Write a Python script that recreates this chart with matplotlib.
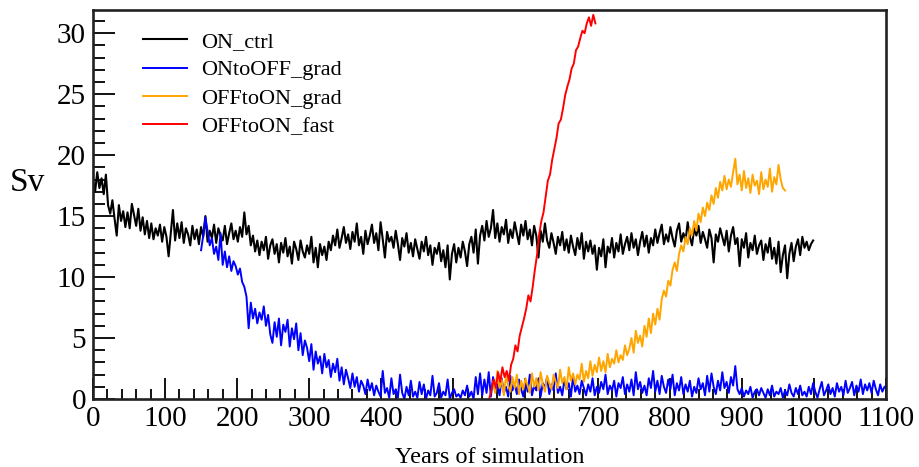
import numpy as np
import matplotlib
matplotlib.use('Agg')
import matplotlib.pyplot as plt
from matplotlib.ticker import MultipleLocator

plt.rcParams['font.family'] = ['Liberation Serif', 'DejaVu Serif']

# overturning strength (Sv), sampled every 3 model years
years_ctrl = np.arange(0, 1000, 3)
on_ctrl = [
    17.9, 17.0, 18.6, 17.3, 18.1, 16.8, 18.4, 15.9, 15.2, 16.3,
    14.8, 13.4, 15.9, 14.6, 15.4, 14.1, 15.3, 14.0, 16.0, 15.1,
    14.2, 15.6, 13.8, 14.9, 13.5, 14.6, 13.2, 14.4, 13.1, 14.0,
    13.4, 14.3, 12.9, 14.1, 13.3, 11.7, 13.6, 15.5, 13.0, 14.4,
    13.2, 14.5, 12.8, 14.0, 13.5, 12.6, 14.2, 13.1, 13.9, 12.7,
    14.1, 13.3, 15.0, 12.9, 13.8, 13.2, 14.3, 12.8, 14.0, 13.4,
    13.0, 14.2, 12.7, 13.6, 14.4, 13.1, 13.8, 12.9, 14.1, 13.3,
    15.3, 13.5, 14.2, 12.6, 13.4, 12.1, 13.0, 11.8, 12.9, 12.2,
    13.3, 11.5, 12.6, 13.1, 11.9, 12.7, 11.2, 12.8, 12.0, 13.2,
    11.7, 12.5, 11.1, 12.9, 12.3, 11.4, 13.0, 12.1, 11.6, 12.6,
    11.9, 13.3, 11.2, 12.4, 10.8, 12.7, 11.8, 12.5, 11.4, 12.9,
    12.2, 13.4, 12.6, 13.9, 12.4, 13.2, 14.1, 12.8, 13.5, 12.3,
    13.7, 12.9, 14.4, 12.6, 13.3, 11.9, 13.8, 12.7, 13.4, 14.3,
    12.8, 13.6, 12.2, 14.5, 13.1, 11.6, 13.7, 12.9, 13.3, 12.4,
    13.8, 12.7, 11.4, 13.2, 12.5, 13.6, 12.0, 12.8, 11.7, 13.1,
    12.3, 11.5, 12.9, 12.1, 13.3, 11.8, 12.6, 11.0, 12.4, 11.9,
    12.8, 11.3, 12.2, 10.8, 12.6, 9.8, 11.9, 12.7, 11.2, 12.4,
    11.6, 12.9, 12.1, 10.9, 12.7, 13.3, 12.0, 13.9, 11.1, 13.4,
    14.2, 13.0, 14.6, 13.3, 14.0, 15.5, 13.2, 14.4, 12.9, 14.1,
    13.5, 14.7, 12.8, 13.9, 13.2, 14.5, 13.6, 12.7, 14.3, 13.4,
    14.6, 13.1, 13.9, 12.6, 14.2, 13.4, 11.6, 13.8, 12.9, 14.4,
    13.0, 12.4, 13.6, 12.8, 11.9, 13.3, 12.6, 13.7, 12.2, 13.1,
    12.0, 13.4, 12.5, 11.8, 13.2, 12.3, 13.6, 11.5, 12.9, 12.1,
    13.0, 11.9, 12.6, 10.6, 12.4, 11.7, 13.1, 10.8, 12.5, 12.0,
    13.2, 11.6, 12.8, 12.1, 13.5, 11.9, 12.7, 13.3, 12.2, 13.6,
    12.4, 13.1, 11.8, 12.9, 13.7, 12.5, 13.4, 12.0, 13.2, 12.6,
    13.9, 12.8, 13.6, 14.3, 12.7, 13.5, 12.9, 14.1, 13.2, 12.5,
    13.8, 14.4, 12.9, 13.6, 13.0, 14.5, 13.3, 12.6, 14.0, 13.4,
    14.2, 12.8, 13.7, 13.1, 12.4, 13.9, 13.2, 11.2, 13.5, 12.9,
    14.0, 13.3, 12.6, 13.8, 12.1, 13.4, 14.1, 12.7, 13.2, 10.9,
    13.1, 12.4, 13.6, 11.6, 12.8, 12.2, 13.4, 11.9, 12.6, 13.0,
    11.4, 12.7, 12.0, 13.2, 11.5, 12.4, 11.1, 12.9, 10.4, 11.8,
    12.6, 9.9, 11.9, 12.8, 11.3, 12.5, 13.1, 11.8, 13.3, 12.4,
    12.9, 12.2, 12.7, 13.0,
]

years_on_off = np.arange(150, 1100, 3)
on_to_off_grad = [
    12.2, 13.4, 14.9, 13.8, 12.6, 13.2, 11.9, 12.5, 11.4, 13.6,
    11.0, 12.1, 10.8, 11.7, 10.5, 11.3, 10.9, 10.2, 10.7, 9.6,
    9.2, 8.4, 5.8, 7.9, 6.6, 7.4, 6.2, 7.1, 6.5, 7.6,
    6.0, 6.9, 5.3, 4.6, 6.3, 5.1, 6.6, 4.4, 6.1, 5.5,
    6.5, 4.3, 5.8, 4.9, 6.2, 4.0, 5.4, 3.6, 4.8, 4.2,
    3.1, 4.5, 2.4, 3.9, 2.9, 3.5, 2.1, 3.7, 2.6, 3.2,
    1.8, 2.9, 2.2, 3.3, 1.5, 2.6, 1.2, 2.4, 1.7, 0.9,
    2.1, 1.0, 1.8, 0.6, 1.5, 1.1, 0.4, 1.6, 0.7, 1.3,
    0.3, 1.1, 0.6, 0.2, 2.3, 0.5, 0.9, 0.1, 1.7, 0.4,
    0.8, 0.1, 2.0, 0.5, 0.0, 1.0, 0.3, 1.5, 0.2, 0.6,
    0.1, 1.4, 0.4, 1.2, 0.0, 0.7, 0.3, 1.9, 0.2, 0.5,
    1.3, 0.1, 0.6, 0.3, 1.6, 0.0, 0.5, 0.8, 0.2, 0.4,
    0.1, 0.7, 0.3, 1.1, 0.2, 0.6, 0.0, 1.8, 0.4, 2.1,
    0.3, 1.6, 0.5, 2.2, 0.2, 1.8, 0.6, 1.2, 0.3, 1.7,
    0.5, 1.0, 0.2, 1.9, 0.7, 1.3, 0.4, 1.6, 0.8, 0.2,
    1.4, 0.6, 2.0, 0.3, 1.1, 0.7, 1.7, 0.2, 1.3, 0.9,
    1.8, 0.4, 1.2, 0.7, 2.1, 0.5, 1.0, 0.3, 1.6, 0.8,
    1.3, 0.2, 1.9, 0.6, 1.1, 0.4, 1.5, 0.9, 0.3, 1.2,
    0.6, 1.7, 0.3, 1.0, 0.5, 1.4, 0.8, 2.0, 0.4, 1.1,
    0.7, 1.5, 0.2, 1.3, 0.9, 1.8, 0.4, 1.2, 0.6, 1.6,
    0.3, 2.2, 0.8, 1.4, 0.5, 1.1, 0.3, 1.7, 0.9, 2.3,
    0.6, 1.5, 0.4, 1.9, 1.0, 0.5, 1.6, 0.8, 2.0, 0.3,
    1.3, 0.7, 1.8, 0.4, 1.2, 0.6, 1.5, 0.2, 1.0, 0.5,
    1.7, 0.8, 1.3, 0.3, 1.9, 0.6, 2.1, 1.0, 0.4, 1.5,
    0.7, 2.2, 0.9, 1.4, 0.5, 1.8, 1.1, 2.7, 0.8, 0.4,
    0.9, 0.2, 0.7, 0.4, 1.0, 0.1, 0.6, 0.8, 0.3, 0.9,
    0.5, 0.1, 0.8, 0.3, 1.1, 0.2, 0.6, 0.4, 0.9, 0.1,
    0.7, 0.3, 1.2, 0.5, 0.2, 0.9, 0.4, 1.1, 0.3, 0.6,
    0.2, 1.0, 0.4, 1.3, 0.6, 0.1, 0.8, 1.4, 0.3, 0.7,
    1.2, 0.4, 0.9, 0.2, 1.3, 0.6, 1.0, 0.3, 1.5, 0.5,
    0.9, 1.4, 0.3, 1.1, 0.6, 1.6, 0.4, 1.2, 0.7, 1.3,
    0.5, 1.5, 0.8, 0.3, 1.2, 0.6, 1.0,
]

years_off_on = np.arange(555, 961, 3)
off_to_on_grad = [
    1.4, 0.5, 2.3, 0.9, 1.6, 0.3, 1.9, 1.1, 0.6, 1.8,
    0.9, 2.0, 0.4, 1.5, 0.8, 1.7, 1.1, 0.5, 2.1, 1.0,
    1.7, 0.7, 2.2, 1.2, 0.6, 1.9, 1.3, 0.8, 2.0, 1.4,
    0.9, 2.4, 1.3, 1.8, 0.8, 2.6, 1.5, 2.1, 1.2, 2.0,
    1.6, 2.9, 1.4, 2.3, 1.7, 3.1, 1.9, 2.8, 2.2, 3.4,
    2.3, 3.1, 2.2, 3.7, 2.6, 3.3, 2.9, 4.0, 3.0, 3.6,
    3.2, 4.4, 3.6, 4.1, 5.0, 3.8, 5.6, 4.6, 5.2, 4.3,
    6.0, 5.1, 6.6, 5.4, 7.0, 6.1, 7.4, 6.5, 8.2, 8.9,
    8.4, 9.7, 9.3, 10.6, 11.2, 10.5, 11.9, 12.6, 12.1, 13.3,
    12.7, 14.0, 13.4, 14.6, 13.8, 15.2, 14.5, 15.7, 15.0, 16.1,
    15.5, 16.7, 16.0, 17.3, 16.5, 17.8, 17.1, 18.3, 17.2, 18.0,
    17.4, 18.6, 19.7, 17.6, 18.4, 17.1, 18.7, 17.3, 18.1, 16.9,
    18.4, 17.5, 17.9, 16.8, 18.6, 17.2, 18.0, 17.4, 18.9, 17.0,
    18.2, 17.6, 19.2, 18.0, 17.3, 17.1,
]

# fast switch-on run
years_fast = np.arange(550, 698, 3)
off_to_on_fast = [
    0.1, 0.8, 1.6, 0.9, 2.2, 1.4, 2.6, 1.8, 2.3, 1.5,
    2.8, 3.3, 4.4, 3.9, 5.2, 5.9, 6.6, 7.4, 8.5, 8.0,
    9.2, 10.6, 11.8, 13.5, 14.6, 15.3, 16.6, 17.9, 18.4, 19.6,
    20.5, 21.4, 22.6, 22.9, 23.8, 24.9, 25.6, 26.2, 27.1, 27.5,
    28.6, 28.9, 29.6, 30.2, 30.0, 30.8, 31.3, 30.6, 31.5, 30.8,
]

fig = plt.figure(figsize=(9.2, 4.67), dpi=100)
ax = fig.add_axes([0.101, 0.1456, 0.862, 0.833])

ax.plot(years_ctrl, on_ctrl, color='black', lw=1.5, label='ON_ctrl')
ax.plot(years_on_off, on_to_off_grad, color='#0000ff', lw=1.4, label='ONtoOFF_grad')
ax.plot(years_off_on, off_to_on_grad, color='#ffa500', lw=1.4, label='OFFtoON_grad')
ax.plot(years_fast, off_to_on_fast, color='#ff0000', lw=1.4, label='OFFtoON_fast')

ax.set_xlim(0, 1100)
ax.set_ylim(0, 31.9)
ax.xaxis.set_major_locator(MultipleLocator(100))
ax.xaxis.set_minor_locator(MultipleLocator(20))
ax.yaxis.set_major_locator(MultipleLocator(5))
ax.yaxis.set_minor_locator(MultipleLocator(1))
ax.tick_params(which='both', direction='in', top=False, right=False,
               width=1.4, color='#111111', labelsize=21, pad=5)
ax.tick_params(axis='y', which='major', length=16)
ax.tick_params(axis='y', which='minor', length=8.5)
ax.tick_params(axis='x', which='major', length=15)
ax.tick_params(axis='x', which='minor', length=7.5)
for side in ax.spines.values():
    side.set_linewidth(1.9)
    side.set_color('#222222')

ax.set_xlabel('Years of simulation', fontsize=17.5, labelpad=11)
ax.set_ylabel('Sv', fontsize=24, rotation=0, va='center', ha='center')
ax.yaxis.set_label_coords(-0.083, 0.555)

ax.legend(loc='upper left', bbox_to_anchor=(0.063, 0.945), frameon=False,
          fontsize=16, handlelength=2.0, handletextpad=0.6,
          labelspacing=0.35, borderpad=0, borderaxespad=0)

plt.savefig('out.png', dpi=100)
plt.close()
